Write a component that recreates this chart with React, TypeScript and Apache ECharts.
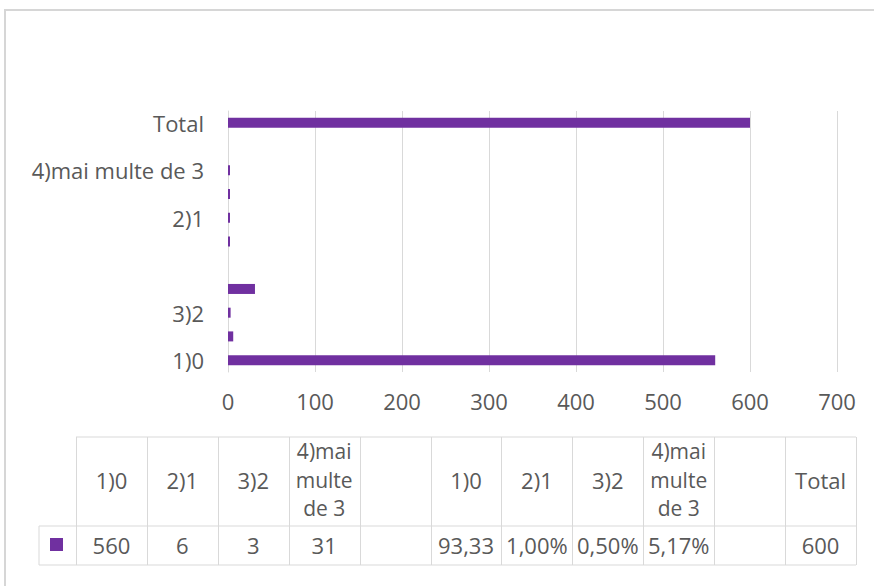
import React, { useEffect, useRef } from "react";
import * as echarts from "echarts";

const categories = [
  "1)0",
  "2)1",
  "3)2",
  "4)mai multe de 3",
  "",
  "1)0",
  "2)1",
  "3)2",
  "4)mai multe de 3",
  "",
  "Total",
];
const values: (number | null)[] = [560, 6, 3, 31, null, 0.9333, 0.01, 0.005, 0.0517, null, 600];
const tableHeaders = [
  ["1)0"],
  ["2)1"],
  ["3)2"],
  ["4)mai", "multe", "de 3"],
  [],
  ["1)0"],
  ["2)1"],
  ["3)2"],
  ["4)mai", "multe", "de 3"],
  [],
  ["Total"],
];
const tableValues = ["560", "6", "3", "31", "", "93,33", "1,00%", "0,50%", "5,17%", "", "600"];
const xTicks = { min: 0, max: 700, interval: 100 };

const BAR = "#7030A0";
const TEXT = "#595959";
const LINE = "#D9D9D9";
const FONT = "'Open Sans', 'Noto Sans', sans-serif";
const FS = 22;
const FS_WRAP = 21;

export default function App() {
  const ref = useRef<HTMLDivElement>(null);
  useEffect(() => {
    document.body.style.margin = "0";
    if (!ref.current) return;
    const chart = echarts.init(ref.current, undefined, { renderer: "svg" });

    const tX0 = 76;
    const tX1 = 856;
    const legX = 39;
    const tTop = 437;
    const tMid = 526;
    const tBot = 565;
    const colW = (tX1 - tX0) / categories.length;
    const lineH = 28.8;

    const g: any[] = [];
    // outer chart border
    g.push({
      type: "rect",
      shape: { x: 5, y: 10, width: 1000, height: 1000 },
      style: { fill: "none", stroke: "#D6D6D6", lineWidth: 2 },
      silent: true,
    });
    const ln = (x1: number, y1: number, x2: number, y2: number) =>
      g.push({
        type: "line",
        shape: { x1, y1, x2, y2 },
        style: { stroke: LINE, lineWidth: 1 },
        silent: true,
      });
    ln(tX0, tTop, tX1, tTop);
    ln(legX, tMid, tX1, tMid);
    ln(legX, tBot, tX1, tBot);
    ln(legX, tMid, legX, tBot);
    for (let i = 0; i <= categories.length; i++) {
      const x = Math.round(tX0 + i * colW) + 0.5;
      ln(x, tTop, x, tBot);
    }
    const txt = (text: string, x: number, y: number, fs: number) =>
      g.push({
        type: "text",
        x,
        y,
        style: {
          text,
          fill: TEXT,
          fontSize: fs,
          fontFamily: FONT,
          align: "center",
          verticalAlign: "middle",
        },
        silent: true,
      });
    categories.forEach((_, i) => {
      const cx = tX0 + (i + 0.5) * colW;
      const lines = tableHeaders[i];
      const midY = (tTop + tMid) / 2 - 2;
      const fs = lines.length > 1 ? FS_WRAP : FS;
      lines.forEach((s, k) => {
        txt(s, cx, midY + (k - (lines.length - 1) / 2) * lineH, fs);
      });
      if (tableValues[i]) txt(tableValues[i], cx, (tMid + tBot) / 2 - 0.5, FS);
    });
    // legend key
    g.push({
      type: "rect",
      shape: { x: 50, y: 538, width: 13, height: 13 },
      style: { fill: BAR },
      silent: true,
    });

    chart.setOption({
      animation: false,
      grid: { left: 228, right: 37, top: 111, bottom: 214, containLabel: false },
      xAxis: {
        type: "value",
        min: xTicks.min,
        max: xTicks.max,
        interval: xTicks.interval,
        axisLine: { show: false },
        axisTick: { show: false },
        splitLine: { show: true, lineStyle: { color: LINE, width: 1 } },
        axisLabel: { color: TEXT, fontSize: FS, fontFamily: FONT, margin: 18 },
      },
      yAxis: {
        type: "category",
        data: categories,
        axisLine: { show: true, lineStyle: { color: LINE, width: 1 } },
        axisTick: { show: false },
        axisLabel: {
          interval: 1,
          color: TEXT,
          fontSize: FS,
          fontFamily: FONT,
          margin: 24,
          padding: [0, 0, 3, 0],
        },
      },
      series: [
        {
          type: "bar",
          data: values,
          barWidth: 10,
          barMinHeight: 2,
          itemStyle: { color: BAR },
        },
      ],
      graphic: g,
    });
    return () => chart.dispose();
  }, []);
  return <div ref={ref} style={{ width: 874, height: 586 }} />;
}
